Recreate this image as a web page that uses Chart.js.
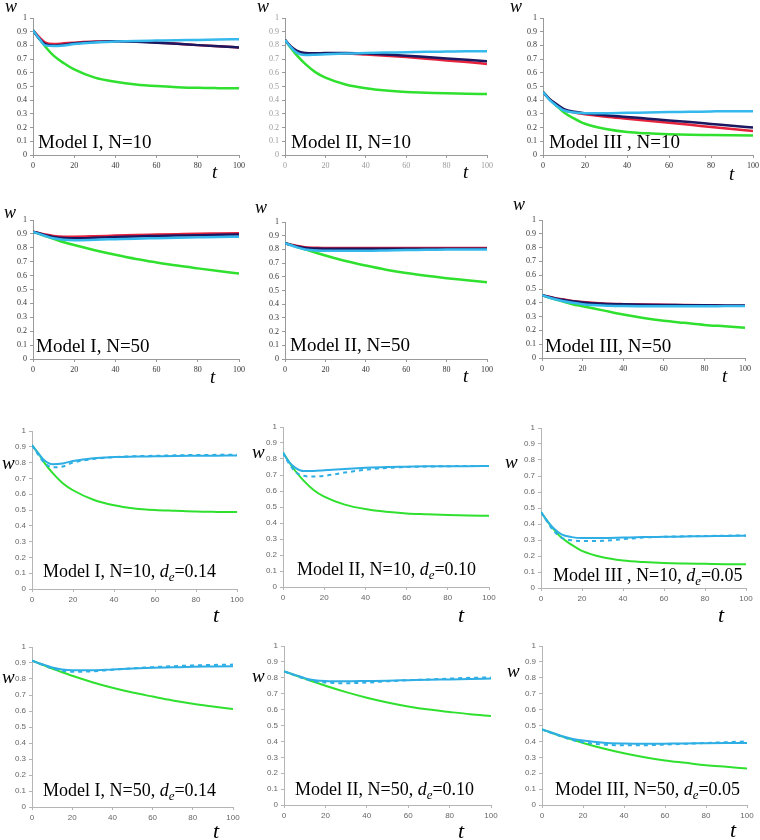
<!DOCTYPE html>
<html><head><meta charset="utf-8">
<script src="https://cdn.jsdelivr.net/npm/chart.js@4"></script>
<style>
html,body{margin:0;padding:0;background:#fff;}
body{width:760px;height:840px;position:relative;overflow:hidden;}
canvas{position:absolute;}
.lbl{position:absolute;white-space:nowrap;line-height:1;color:#000;font-family:"Liberation Serif","Times New Roman",serif;}
.it{font-style:italic;}
.lbl sub{font-size:0.72em;vertical-align:-0.3em;line-height:0;}
</style></head><body>
<script>
// ---- shared time axis and tick settings ----
const T = [0, 3, 6, 10, 15, 20, 30, 40, 50, 60, 70, 80, 90, 100];
const X_TICK_STEP = 20;
const Y_TICK_STEP = 0.1;

// ---- Row 1: N=10 ----
const m1n10Green = [0.91,0.85,0.79,0.725,0.67,0.625,0.565,0.535,0.515,0.503,0.495,0.49,0.488,0.487];
const m1n10Red   = [0.91,0.86,0.82,0.81,0.815,0.82,0.828,0.83,0.828,0.822,0.812,0.802,0.793,0.785];
const m1n10Navy  = [0.91,0.85,0.81,0.80,0.805,0.815,0.825,0.83,0.826,0.82,0.812,0.802,0.793,0.785];
const m1n10Cyan  = [0.91,0.85,0.80,0.795,0.80,0.81,0.822,0.828,0.832,0.835,0.838,0.84,0.843,0.845];

const m2n10Green = [0.84,0.78,0.725,0.665,0.605,0.565,0.515,0.487,0.47,0.46,0.455,0.45,0.447,0.445];
const m2n10Red   = [0.84,0.79,0.755,0.74,0.74,0.742,0.74,0.733,0.725,0.715,0.703,0.69,0.678,0.665];
const m2n10Navy  = [0.84,0.79,0.76,0.745,0.742,0.745,0.745,0.74,0.733,0.725,0.715,0.705,0.695,0.685];
const m2n10Cyan  = [0.84,0.785,0.745,0.73,0.732,0.735,0.74,0.745,0.748,0.75,0.753,0.755,0.757,0.758];

const m3n10Green = [0.46,0.41,0.365,0.31,0.265,0.228,0.19,0.168,0.158,0.152,0.148,0.146,0.144,0.142];
const m3n10Red   = [0.46,0.41,0.372,0.33,0.31,0.298,0.28,0.265,0.25,0.235,0.22,0.205,0.19,0.175];
const m3n10Navy  = [0.46,0.41,0.375,0.335,0.315,0.305,0.29,0.278,0.265,0.252,0.24,0.227,0.214,0.20];
const m3n10Cyan  = [0.46,0.405,0.365,0.325,0.31,0.305,0.305,0.308,0.31,0.313,0.315,0.318,0.32,0.32];

// ---- Row 2: N=50 ----
const m1n50Green = [0.915,0.9,0.885,0.865,0.84,0.82,0.783,0.75,0.72,0.695,0.672,0.652,0.633,0.615];
const m1n50Red   = [0.915,0.905,0.895,0.885,0.88,0.88,0.883,0.888,0.892,0.895,0.898,0.901,0.903,0.905];
const m1n50Navy  = [0.915,0.905,0.89,0.878,0.87,0.868,0.872,0.878,0.882,0.885,0.888,0.891,0.893,0.895];
const m1n50Cyan  = [0.915,0.9,0.885,0.868,0.858,0.855,0.858,0.862,0.866,0.869,0.872,0.875,0.878,0.88];

const m2n50Green = [0.845,0.832,0.818,0.8,0.777,0.755,0.715,0.682,0.652,0.627,0.607,0.59,0.575,0.56];
const m2n50Red   = [0.845,0.835,0.825,0.815,0.812,0.81,0.81,0.81,0.81,0.81,0.81,0.81,0.81,0.81];
const m2n50Navy  = [0.845,0.833,0.822,0.81,0.806,0.805,0.805,0.805,0.805,0.805,0.805,0.805,0.805,0.805];
const m2n50Cyan  = [0.845,0.83,0.815,0.8,0.792,0.79,0.79,0.79,0.792,0.795,0.797,0.8,0.8,0.8];

const m3n50Green = [0.455,0.44,0.427,0.41,0.39,0.375,0.345,0.315,0.29,0.27,0.255,0.24,0.23,0.22];
const m3n50Red   = [0.455,0.445,0.435,0.425,0.413,0.405,0.395,0.39,0.387,0.385,0.384,0.383,0.382,0.38];
const m3n50Navy  = [0.455,0.444,0.434,0.423,0.411,0.403,0.394,0.389,0.386,0.384,0.383,0.382,0.381,0.38];
const m3n50Cyan  = [0.455,0.44,0.427,0.413,0.4,0.39,0.38,0.376,0.375,0.375,0.375,0.375,0.376,0.377];

// ---- Row 3: N=10 with d_e ----
const m1n10deGreen  = [0.91,0.86,0.80,0.735,0.67,0.625,0.565,0.53,0.51,0.5,0.495,0.49,0.488,0.487];
const m1n10deSolid  = [0.91,0.86,0.815,0.79,0.795,0.81,0.828,0.835,0.838,0.84,0.842,0.843,0.844,0.845];
const m1n10deDashed = [0.91,0.85,0.80,0.77,0.775,0.80,0.823,0.835,0.84,0.843,0.846,0.848,0.849,0.85];

const m2n10deGreen  = [0.84,0.78,0.725,0.665,0.605,0.565,0.515,0.487,0.47,0.46,0.455,0.45,0.447,0.445];
const m2n10deSolid  = [0.84,0.78,0.745,0.725,0.725,0.73,0.738,0.745,0.75,0.752,0.754,0.755,0.755,0.756];
const m2n10deDashed = [0.84,0.77,0.72,0.695,0.69,0.695,0.715,0.733,0.743,0.75,0.753,0.755,0.756,0.756];

const m3n10deGreen  = [0.475,0.42,0.37,0.315,0.27,0.232,0.192,0.172,0.162,0.156,0.153,0.151,0.149,0.148];
const m3n10deSolid  = [0.475,0.42,0.375,0.335,0.318,0.312,0.312,0.315,0.318,0.32,0.322,0.324,0.325,0.327];
const m3n10deDashed = [0.475,0.415,0.36,0.315,0.298,0.293,0.295,0.305,0.315,0.32,0.323,0.325,0.327,0.328];

// ---- Row 4: N=50 with d_e ----
const m1n50deGreen  = [0.915,0.9,0.885,0.865,0.842,0.82,0.78,0.745,0.715,0.69,0.666,0.645,0.628,0.612];
const m1n50deSolid  = [0.915,0.9,0.888,0.872,0.86,0.855,0.855,0.86,0.865,0.87,0.873,0.876,0.878,0.88];
const m1n50deDashed = [0.915,0.9,0.885,0.866,0.852,0.845,0.848,0.858,0.866,0.874,0.88,0.885,0.888,0.89];

const m2n50deGreen  = [0.84,0.827,0.813,0.795,0.772,0.75,0.71,0.675,0.645,0.62,0.6,0.585,0.571,0.56];
const m2n50deSolid  = [0.84,0.828,0.815,0.798,0.785,0.78,0.778,0.78,0.782,0.785,0.788,0.79,0.793,0.795];
const m2n50deDashed = [0.84,0.826,0.812,0.792,0.777,0.77,0.766,0.77,0.778,0.785,0.79,0.795,0.8,0.802];

const m3n50deGreen  = [0.475,0.462,0.448,0.43,0.41,0.39,0.355,0.325,0.3,0.28,0.265,0.25,0.24,0.23];
const m3n50deSolid  = [0.475,0.462,0.45,0.432,0.415,0.405,0.392,0.387,0.385,0.386,0.387,0.389,0.39,0.39];
const m3n50deDashed = [0.475,0.46,0.447,0.428,0.408,0.395,0.38,0.375,0.376,0.38,0.385,0.39,0.395,0.4];

// ---- panel titles ----
const titles = [
  'Model I, N=10', 'Model II, N=10', 'Model III , N=10',
  'Model I, N=50', 'Model II, N=50', 'Model III, N=50',
  'Model I, N=10, <i>d</i><sub><i>e</i></sub>=0.14', 'Model II, N=10, <i>d</i><sub><i>e</i></sub>=0.10', 'Model III , N=10, <i>d</i><sub><i>e</i></sub>=0.05',
  'Model I, N=50, <i>d</i><sub><i>e</i></sub>=0.14', 'Model II, N=50, <i>d</i><sub><i>e</i></sub>=0.10', 'Model III, N=50, <i>d</i><sub><i>e</i></sub>=0.05'
];

// ---- styles ----
const GREEN = '#2fe02f', RED = '#e6233c', NAVY = '#1b1760', CYAN = '#35b8ec', CYAN2 = '#2eaee4';

function four(g, r, n, c) {
  return [
    {data: c, color: CYAN, width: 2.5},
    {data: n, color: NAVY, width: 2.5},
    {data: r, color: RED, width: 2.5},
    {data: g, color: GREEN, width: 2.5}
  ];
}
function three(g, s, d) {
  return [
    {data: d, color: CYAN2, width: 2, dash: [4, 4]},
    {data: s, color: CYAN2, width: 2},
    {data: g, color: GREEN, width: 2}
  ];
}

// panel layout: plot box [left, top, right, bottom], label positions
const panels = [
  {series: four(m1n10Green, m1n10Red, m1n10Navy, m1n10Cyan), box: [33,18,239,155], style: 'serif', tickColor: '#333',
   w: [5,12,18], t: [212,178,19], title: [38,148,19]},
  {series: four(m2n10Green, m2n10Red, m2n10Navy, m2n10Cyan), box: [285,18,487,155], style: 'serif', tickColor: '#999',
   w: [257,12,18], t: [463,178,19], title: [291,148,19]},
  {series: four(m3n10Green, m3n10Red, m3n10Navy, m3n10Cyan), box: [543,18,753,155], style: 'serif', tickColor: '#333',
   w: [510,12,18], t: [729,180,19], title: [549,148,19]},
  {series: four(m1n50Green, m1n50Red, m1n50Navy, m1n50Cyan), box: [33,220,239,359], style: 'serif', tickColor: '#333',
   w: [4,218,18], t: [210,383,19], title: [36,352,19]},
  {series: four(m2n50Green, m2n50Red, m2n50Navy, m2n50Cyan), box: [285,222,487,359], style: 'serif', tickColor: '#333',
   w: [255,213,18], t: [463,382,19], title: [290,351,19]},
  {series: four(m3n50Green, m3n50Red, m3n50Navy, m3n50Cyan), box: [542,220,745,358], style: 'serif', tickColor: '#333',
   w: [513,210,18], t: [722,382,19], title: [545,352,19]},
  {series: three(m1n10deGreen, m1n10deSolid, m1n10deDashed), box: [32,431,237,589], style: 'sans', tickColor: '#666',
   w: [2,469,19], t: [213,622,22], title: [43,577,18]},
  {series: three(m2n10deGreen, m2n10deSolid, m2n10deDashed), box: [283,427,489,587], style: 'sans', tickColor: '#666',
   w: [252,458,19], t: [458,622,22], title: [297,575,18]},
  {series: three(m3n10deGreen, m3n10deSolid, m3n10deDashed), box: [541,428,746,588], style: 'sans', tickColor: '#666',
   w: [505,468,19], t: [718,622,22], title: [553,581,18]},
  {series: three(m1n50deGreen, m1n50deSolid, m1n50deDashed), box: [32,647,233,807], style: 'sans', tickColor: '#666',
   w: [2,683,19], t: [213,838,22], title: [43,796,18]},
  {series: three(m2n50deGreen, m2n50deSolid, m2n50deDashed), box: [284,646,491,805], style: 'sans', tickColor: '#666',
   w: [252,682,19], t: [458,838,22], title: [295,795,18]},
  {series: three(m3n50deGreen, m3n50deSolid, m3n50deDashed), box: [542,646,747,805], style: 'sans', tickColor: '#666',
   w: [507,677,19], t: [730,837,22], title: [555,795,18]}
];

const PAD_L = 32, PAD_T = 8, PAD_R = 14, XH = 22;

function addText(html, x, baseline, size, italic) {
  const d = document.createElement('div');
  d.className = 'lbl' + (italic ? ' it' : '');
  d.style.left = x + 'px';
  d.style.top = (baseline - 0.84 * size) + 'px';
  d.style.fontSize = size + 'px';
  d.innerHTML = html;
  document.body.appendChild(d);
}

panels.forEach((p, idx) => {
  const [L, Tp, R, B] = p.box;
  const w = R - L + PAD_L + PAD_R, h = B - Tp + PAD_T + XH;
  const cv = document.createElement('canvas');
  cv.width = w; cv.height = h;
  cv.style.left = (L - PAD_L) + 'px';
  cv.style.top = (Tp - PAD_T) + 'px';
  cv.style.width = w + 'px';
  cv.style.height = h + 'px';
  document.body.appendChild(cv);

  const serif = p.style === 'serif';
  const tickFont = serif ? {family: '"Liberation Serif", serif', size: 8} : {family: '"Liberation Sans", sans-serif', size: 8};
  const axisColor = serif ? '#9a9a9a' : '#b5b5b5';

  new Chart(cv, {
    type: 'line',
    data: {
      datasets: p.series.map(s => ({
        data: T.map((t, i) => ({x: t, y: s.data[i]})),
        borderColor: s.color,
        backgroundColor: s.color,
        borderWidth: s.width,
        borderDash: s.dash || [],
        pointRadius: 0,
        tension: 0.4,
        cubicInterpolationMode: 'monotone',
        fill: false
      }))
    },
    options: {
      responsive: false,
      animation: false,
      devicePixelRatio: 1,
      layout: {padding: {left: 0, top: PAD_T, right: PAD_R, bottom: 0}},
      plugins: {legend: {display: false}, tooltip: {enabled: false}},
      scales: {
        x: {
          type: 'linear', min: 0, max: 100,
          ticks: {stepSize: X_TICK_STEP, font: tickFont, color: p.tickColor, padding: 3, maxRotation: 0},
          grid: {drawOnChartArea: false, drawTicks: true, tickLength: 3, color: axisColor},
          border: {display: true, color: axisColor},
          afterFit(s) { s.height = XH; }
        },
        y: {
          type: 'linear', min: 0, max: 1,
          ticks: {stepSize: Y_TICK_STEP, font: tickFont, color: p.tickColor, padding: 3,
                  callback: v => String(Math.round(v * 10) / 10)},
          grid: {drawOnChartArea: false, drawTicks: true, tickLength: 3, color: axisColor},
          border: {display: true, color: axisColor},
          afterFit(s) { s.width = PAD_L; }
        }
      }
    }
  });

  addText('w', p.w[0], p.w[1], p.w[2], true);
  addText('t', p.t[0], p.t[1], p.t[2], true);
  addText(titles[idx], p.title[0], p.title[1], p.title[2], false);
});
</script>
</body></html>
